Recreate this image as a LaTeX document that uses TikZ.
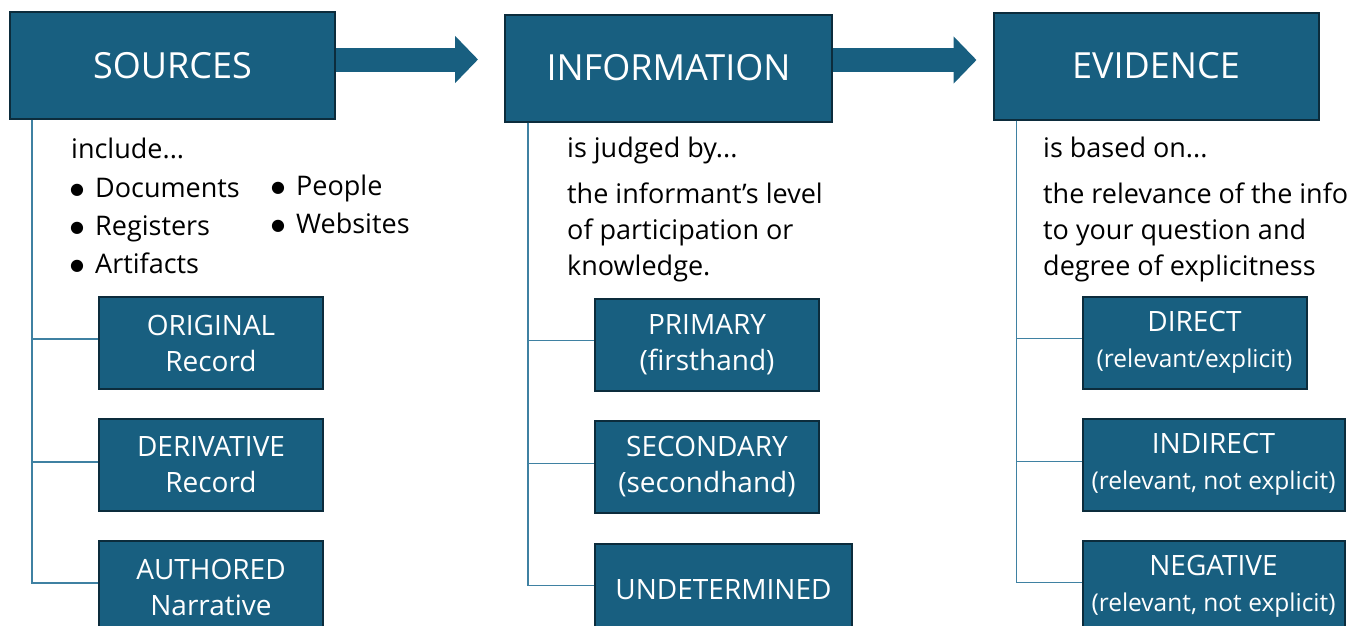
\documentclass[tikz,border=0pt]{standalone}
\usepackage{fontspec}
\setmainfont{Open Sans}
\newfontfamily\dotfont{DejaVu Sans}
\usetikzlibrary{arrows.meta,positioning}
\definecolor{boxblue}{HTML}{185F80}
\definecolor{boxedge}{HTML}{0C2C3C}
\definecolor{trunkblue}{HTML}{3F81A2}
\newcommand\bul{\makebox[25pt][l]{\raisebox{3pt}{\dotfont\fontsize{16}{16}\selectfont ●}}}
\newcommand\kindnote[1]{{\fontsize{24.5}{36}\selectfont #1}}
\tikzset{
  header/.style={
    draw=boxedge,
    line width=2pt,
    fill=boxblue,
    text=white,
    minimum width=325pt,
    minimum height=107pt,
    font=\fontsize{36}{40}\selectfont
  },
  kind/.style={
    header,
    align=center,
    inner sep=4pt,
    minimum width=224pt,
    minimum height=92pt,
    font=\fontsize{28}{36}\selectfont
  },
  note/.style={
    anchor=base west,
    align=left,
    inner sep=0pt,
    font=\fontsize{27}{36}\selectfont
  },
  flow/.style={
    boxblue,
    line width=24pt,
    -{Triangle[length=23pt,width=46pt]}
  },
  trunk/.style={
    trunkblue,
    line width=1.5pt
  }
}

\begin{document}
\begin{tikzpicture}[x=1pt,y=-1pt]
  \clip (0,0) rectangle (1354,625);

  \node[header] (src) at (172.5,65.5) {SOURCES};
  \node[header, minimum width=327pt] (info) at (668.5,68) {INFORMATION};
  \node[header] (evid) at (1156,66) {EVIDENCE};

  \coordinate (a1) at ([yshift=6pt]src.east);
  \coordinate (a2) at ([yshift=8pt]info.east);
  \draw[flow, shorten >=26pt] (a1) -- (a1 -| info.west);
  \draw[flow, shorten >=16pt] (a2) -- (a2 -| evid.west);

  % sources (multi-line notes sit on their last baseline)
  \node[note] (srcinc) at (71,158) {include...};
  \node[note, font=\fontsize{27}{38}\selectfont] (srclist1) at (70,273) {\bul Documents\\\bul Registers\\\bul Artifacts};
  \node[note, font=\fontsize{27}{38}\selectfont] (srclist2) at (271,233) {\bul People\\\bul Websites};
  \node[kind, below right=176pt and 89pt of src.south west] (orig) {ORIGINAL\\Record};
  \node[kind, below right=28pt and 0pt of orig.south west] (deriv) {DERIVATIVE\\Record};
  \node[kind, below right=28pt and 0pt of deriv.south west] (auth) {AUTHORED\\Narrative};

  % information
  \node[note] (infojud) at (567,157) {is judged by...};
  \node[note] (infotxt) at (567,275) {the informant’s level\\of participation or\\knowledge.};
  \node[kind, below right=175pt and 90pt of info.south west] (prim) {PRIMARY\\(firsthand)};
  \node[kind, below right=28pt and 0pt of prim.south west] (sec) {SECONDARY\\(secondhand)};
  \node[kind, minimum width=257pt, below right=29pt and 0pt of sec.south west] (undet) {UNDETERMINED};

  % evidence
  \node[note] (evidbas) at (1043,157) {is based on...};
  \node[note] (evidtxt) at (1043,275) {the relevance of the info\\to your question and\\degree of explicitness};
  \node[kind, below right=175pt and 89pt of evid.south west] (direct) {DIRECT\\\kindnote{(relevant/explicit)}};
  \node[kind, minimum width=262pt, below right=28pt and 0pt of direct.south west] (indir) {INDIRECT\\\kindnote{(relevant, not explicit)}};
  \node[kind, minimum width=262pt, below right=28pt and 0pt of indir.south west] (neg) {NEGATIVE\\\kindnote{(relevant, not explicit)}};

  % branches meet the boxes a little above their middle
  \draw[trunk] ([xshift=23pt]src.south west) |- ([yshift=4pt]orig.west);
  \draw[trunk] ([xshift=23pt]src.south west) |- ([yshift=3pt]deriv.west);
  \draw[trunk] ([xshift=23pt]src.south west) |- ([yshift=4pt]auth.west);
  \draw[trunk] ([xshift=24pt]info.south west) |- ([yshift=4pt]prim.west);
  \draw[trunk] ([xshift=24pt]info.south west) |- ([yshift=3pt]sec.west);
  \draw[trunk] ([xshift=24pt]info.south west) |- ([yshift=4pt]undet.west);
  \draw[trunk] ([xshift=24pt]evid.south west) |- ([yshift=4pt]direct.west);
  \draw[trunk] ([xshift=24pt]evid.south west) |- ([yshift=3pt]indir.west);
  \draw[trunk] ([xshift=24pt]evid.south west) |- ([yshift=4pt]neg.west);
\end{tikzpicture}
\end{document}
